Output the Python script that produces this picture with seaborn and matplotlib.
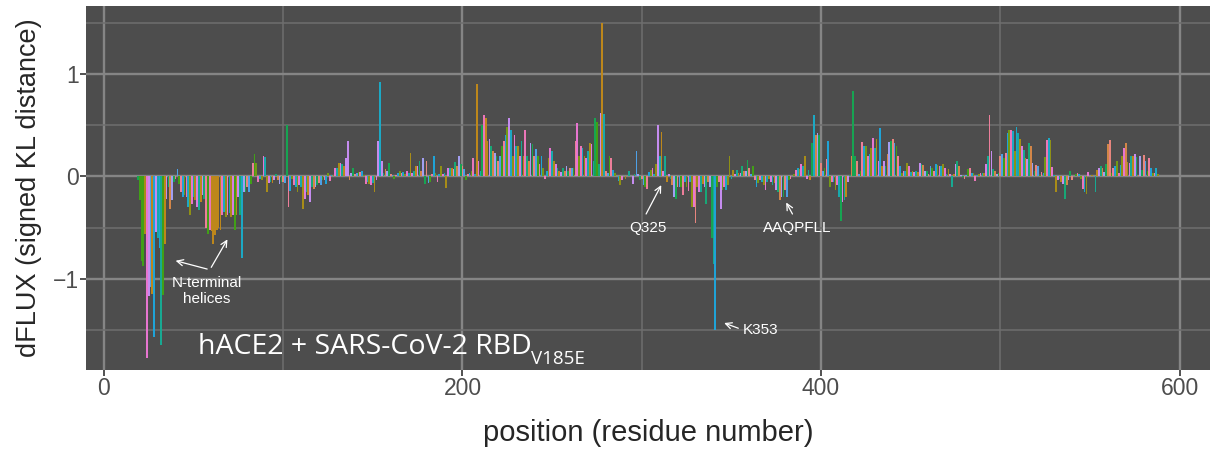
import pandas as pd
import seaborn as sns
import matplotlib
matplotlib.use("Agg")
import matplotlib.pyplot as plt

# residue positions and signed KL distance (dFLUX)
first_pos = 19
dflux = [
    -0.03, -0.23, -0.82, -0.87, -0.56, -1.77, -1.17, -1.08, -1.15, -1.57,   # 19
    -0.54, -0.60, -0.70, -1.64, -1.16, -0.66, -0.22, -0.10, -0.32, -0.23,   # 29
    -0.05, -0.02, 0.07, -0.07, -0.15, -0.20, -0.18, -0.20, -0.30, -0.38,    # 39
    -0.27, -0.20, -0.23, -0.30, -0.33, -0.25, -0.18, -0.22, -0.50, -0.56,   # 49
    -0.52, -0.53, -0.66, -0.57, -0.52, -0.50, -0.52, -0.38, -0.35, -0.40,   # 59
    -0.38, -0.36, -0.40, -0.38, -0.52, -0.38, -0.20, -0.38, -0.80, -0.15,   # 69
    -0.15, -0.10, -0.15, -0.07, 0.13, 0.22, 0.13, -0.05, -0.02, -0.03,      # 79
    0.20, 0.19, -0.15, -0.06, -0.05, -0.06, -0.03, 0.02, -0.03, -0.07,      # 89
    -0.05, -0.05, -0.06, 0.50, -0.30, -0.14, -0.02, -0.08, -0.10, -0.15,    # 99
    -0.08, -0.10, -0.32, -0.22, -0.15, -0.18, -0.25, -0.10, -0.12, -0.10,   # 109
    -0.08, -0.06, -0.08, -0.03, -0.03, -0.07, 0.03, -0.04, 0.01, 0.01,      # 119
    0.08, 0.08, 0.13, 0.13, 0.12, 0.10, 0.18, 0.35, -0.03, 0.03,            # 129
    0.08, 0.02, 0.03, 0.04, 0.04, 0.05, 0.01, -0.07, -0.05, -0.07,          # 139
    -0.08, -0.06, -0.15, -0.03, 0.35, 0.92, 0.15, 0.03, 0.07, 0.05,         # 149
    0.13, 0.02, 0.01, -0.02, 0.01, 0.03, 0.05, 0.03, 0.04, 0.02,            # 159
    0.05, 0.03, 0.23, 0.03, 0.05, 0.10, 0.10, 0.15, 0.05, 0.18,             # 169
    -0.07, 0.15, -0.06, -0.05, 0.02, 0.20, 0.03, -0.05, 0.02, 0.10,         # 179
    0.02, 0.03, -0.11, 0.08, 0.08, 0.08, 0.07, 0.14, 0.10, 0.20,            # 189
    0.12, 0.10, 0.07, -0.03, 0.02, 0.03, 0.05, 0.18, 0.02, 0.90,            # 199
    0.15, 0.05, 0.50, 0.60, 0.57, 0.35, 0.37, 0.30, 0.25, 0.23,             # 209
    0.20, 0.15, 0.20, 0.30, 0.35, 0.40, 0.48, 0.57, 0.45, 0.20,             # 219
    0.40, 0.30, 0.30, 0.20, 0.35, 0.20, 0.45, 0.20, 0.15, 0.33,             # 229
    0.32, 0.20, 0.27, 0.20, 0.12, 0.20, 0.08, -0.02, 0.05, 0.18,            # 239
    0.28, 0.25, 0.15, 0.12, 0.08, 0.05, 0.04, 0.08, 0.05, 0.10,             # 249
    0.05, 0.08, 0.08, 0.08, 0.35, 0.52, 0.20, 0.30, 0.28, 0.20,             # 259
    0.18, 0.25, 0.33, 0.32, 0.15, 0.57, 0.53, 0.12, 0.62, 1.50,             # 269
    0.61, 0.05, 0.03, 0.20, 0.18, 0.06, 0.03, 0.00, -0.04, -0.08,           # 279
    -0.03, 0.00, -0.02, 0.00, 0.05, 0.00, -0.07, 0.02, 0.25, 0.02,          # 289
    -0.03, -0.02, -0.08, -0.10, -0.12, 0.04, 0.06, 0.08, 0.02, 0.12,        # 299
    0.50, 0.20, 0.43, 0.05, 0.20, -0.05, 0.02, -0.02, -0.08, -0.20,         # 309
    -0.22, -0.10, -0.10, -0.10, -0.18, -0.05, -0.10, -0.14, -0.05, -0.30,   # 319
    -0.30, -0.45, -0.10, -0.15, -0.15, -0.07, -0.10, -0.27, -0.05, -0.10,   # 329
    -0.60, -0.85, -1.50, -0.10, -0.05, -0.32, -0.13, -0.10, -0.13, -0.08,   # 339
    0.20, -0.02, 0.06, 0.02, 0.06, 0.03, 0.03, 0.10, 0.05, 0.05,            # 349
    0.16, 0.08, 0.02, 0.10, -0.03, -0.10, -0.06, -0.03, -0.05, -0.08,       # 359
    -0.13, -0.05, -0.02, -0.05, -0.08, -0.06, -0.13, -0.15, -0.23, -0.20,   # 369
    -0.20, -0.13, -0.20, -0.03, -0.02, 0.00, 0.02, 0.06, 0.08, 0.07,        # 379
    0.12, 0.10, 0.20, -0.02, 0.06, -0.03, 0.33, 0.60, 0.40, 0.42,           # 389
    0.40, 0.13, 0.05, 0.08, 0.17, 0.35, -0.10, -0.05, -0.05, -0.13,         # 399
    -0.08, -0.20, -0.43, -0.25, -0.23, -0.20, -0.05, 0.01, 0.20, 0.83,      # 409
    0.20, 0.15, 0.02, 0.05, 0.34, 0.30, 0.30, 0.20, 0.22, 0.28,             # 419
    0.38, 0.28, 0.37, 0.15, 0.47, 0.10, 0.15, 0.10, 0.22, 0.34,             # 429
    0.35, 0.37, 0.33, 0.30, 0.20, 0.10, 0.03, 0.05, 0.05, 0.13,             # 439
    0.10, 0.04, 0.05, 0.04, 0.05, 0.04, 0.13, 0.12, 0.11, 0.05,             # 449
    0.05, 0.02, 0.10, 0.08, 0.05, 0.12, 0.11, 0.10, 0.10, 0.12,             # 459
    0.08, 0.02, 0.07, 0.02, -0.10, 0.02, 0.12, 0.15, 0.10, 0.01,            # 469
    -0.01, -0.02, 0.01, 0.07, 0.08, 0.03, 0.03, -0.04, 0.01, 0.02,          # 479
    0.03, 0.03, 0.03, 0.12, 0.20, 0.60, 0.25, 0.07, 0.05, 0.02,             # 489
    0.03, 0.20, 0.22, 0.18, 0.23, 0.42, 0.45, 0.45, 0.44, 0.25,             # 499
    0.48, 0.42, 0.37, 0.30, 0.26, 0.18, 0.17, 0.33, 0.30, 0.13,             # 509
    0.05, 0.11, 0.10, 0.01, 0.04, 0.03, 0.19, 0.36, 0.38, 0.36,             # 519
    0.09, 0.01, -0.15, -0.03, -0.02, -0.05, -0.07, -0.22, -0.08, -0.03,     # 529
    0.05, -0.03, 0.00, 0.02, 0.03, 0.02, -0.02, -0.12, -0.15, -0.17,        # 539
    0.04, 0.00, 0.01, 0.00, -0.15, 0.06, 0.08, 0.10, 0.08, 0.04,            # 549
    0.12, 0.32, 0.36, 0.03, 0.08, 0.10, 0.15, 0.03, 0.11, 0.20,             # 559
    0.28, 0.33, 0.14, 0.13, 0.20, 0.20, 0.22, 0.19, 0.01, 0.20,             # 569
    0.06, 0.21, 0.15, 0.05, 0.18, 0.08, 0.03, 0.03, 0.08, 0.02,             # 579
]
position = list(range(first_pos, first_pos + len(dflux)))

# ggplot default hue palette, 20 levels
hue_colors = ["#F8766D", "#EA8331", "#D89000", "#C09B00", "#A3A500",
              "#7CAE00", "#39B600", "#00BB4E", "#00BF7D", "#00C1A3",
              "#00BFC4", "#00BAE0", "#00B0F6", "#35A2FF", "#9590FF",
              "#C77CFF", "#E76BF3", "#FA62DB", "#FF62BC", "#FF6C91"]
group_names = ["g%d" % i for i in range(20)]

# fill level of the bars whose colour is readable in the figure
fill_override = {
    20: 6, 21: 6, 22: 6, 23: 3, 24: 17, 25: 15, 26: 13, 27: 2, 28: 12, 29: 15,
    31: 12, 32: 9, 33: 6, 34: 2, 57: 19, 58: 6, 59: 18, 60: 2, 61: 2, 62: 2,
    63: 2, 64: 2, 65: 2, 73: 6, 77: 11, 84: 6, 102: 7, 136: 15, 153: 15,
    154: 11, 208: 2, 211: 7, 212: 18, 213: 2, 226: 15, 235: 18, 264: 17,
    274: 7, 275: 6, 277: 15, 278: 2, 279: 10, 297: 13, 309: 15, 311: 2,
    330: 0, 339: 7, 340: 9, 341: 12, 344: 15, 349: 4, 395: 7, 396: 11,
    411: 7, 418: 7, 433: 12, 494: 19, 509: 11, 560: 1, 561: 0, 570: 1,
}
fill_group = ["g%d" % fill_override.get(p, (p * 13) % 20) for p in position]

annotations = [
    # label, text x, text y, [(arrow start), (arrow end)] ...
    ("Q325", 303.4, -0.50, [((301.7, -0.39), (311.6, -0.06))]),
    ("AAQPFLL", 386.5, -0.50, [((384.8, -0.39), (379.8, -0.23))]),
]

df = pd.DataFrame({"position": position, "dflux": dflux, "group": fill_group})

sns.set_style("white")
plt.rcParams["font.family"] = ["Liberation Sans", "DejaVu Sans"]

fig = plt.figure(figsize=(12.17, 4.59), dpi=100)
ax = fig.add_axes([0.0707, 0.1939, 0.9235, 0.793])
ax.set_facecolor("#4D4D4D")

sns.barplot(data=df, x="position", y="dflux", hue="group", hue_order=group_names,
            palette=hue_colors, native_scale=True, dodge=False, width=0.95,
            errorbar=None, legend=False, linewidth=0, ax=ax, zorder=3)
for p in ax.patches:
    p.set_antialiased(False)

ax.set_xlim(-9.95, 616.9)
ax.set_ylim(-1.888, 1.663)
ax.set_xticks([0, 200, 400, 600])
ax.set_xticks([100, 300, 500], minor=True)
ax.set_yticks([-1, 0, 1])
ax.set_yticks([-1.5, -0.5, 0.5, 1.5], minor=True)
ax.grid(which="major", color="#858585", lw=1.7, zorder=0)
ax.grid(which="minor", color="#6E6E6E", lw=1.1, zorder=0)
ax.set_axisbelow(True)
for s in ax.spines.values():
    s.set_visible(False)
ax.tick_params(which="major", length=4, width=1.2, color="#333333",
               labelsize=16.5, labelcolor="#4D4D4D", pad=1,
               bottom=True, left=True)
ax.tick_params(which="minor", length=0)

ax.set_xlabel("position (residue number)", fontsize=21, labelpad=14)
ax.set_ylabel("dFLUX (signed KL distance)", fontsize=19.5, labelpad=8)

arrow_kw = dict(arrowstyle="->,head_length=0.45,head_width=0.22", color="white", lw=0.9)

# N-terminal helices: one label, two arrows
ax.text(57.3, -1.12, "N-terminal\nhelices", color="white", fontsize=11,
        ha="center", va="center", linespacing=1.15, zorder=5)
for tgt in [(38.5, -0.815), (69.7, -0.59)]:
    ax.annotate("", xy=tgt, xytext=(59.1, -0.91), arrowprops=arrow_kw, zorder=5)

for label, tx, ty, arrows in annotations:
    ax.text(tx, ty, label, color="white", fontsize=11, ha="center", va="center", zorder=5)
    for start, end in arrows:
        ax.annotate("", xy=end, xytext=start, arrowprops=arrow_kw, zorder=5)

ax.text(356.2, -1.50, "K353", color="white", fontsize=11, ha="left", va="center", zorder=5)
ax.annotate("", xy=(344.5, -1.42), xytext=(355.3, -1.49), arrowprops=arrow_kw, zorder=5)

# complex name with subscript
t = ax.text(52.4, -1.73, "hACE2 + SARS-CoV-2 RBD", color="white", fontsize=20.5,
            family=["Open Sans", "DejaVu Sans"], ha="left", va="baseline", zorder=5)
fig.canvas.draw()
bb = t.get_window_extent(fig.canvas.get_renderer())
x_end = ax.transData.inverted().transform((bb.x1, bb.y0))[0]
ax.text(x_end - 0.5, -1.83, "V185E", color="white", fontsize=13.5,
        family=["Open Sans", "DejaVu Sans"], ha="left", va="baseline", zorder=5)

fig.savefig("out.png", dpi=100, facecolor="white")
